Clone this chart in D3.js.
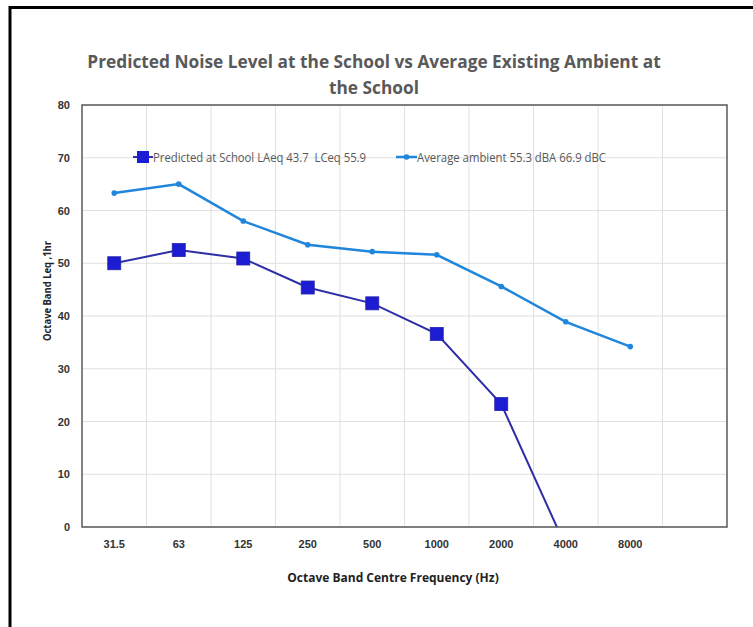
<!DOCTYPE html>
<html>
<head>
<meta charset="utf-8">
<script src="https://cdn.jsdelivr.net/npm/d3@7"></script>
<style>
  body { margin: 0; background: #fff; }
  svg { display: block; font-family: "Open Sans", "Noto Sans", sans-serif; }
</style>
</head>
<body>
<div id="chart"></div>
<script>
// Octave band chart: predicted noise vs existing ambient

const frequencies = ['31.5', '63', '125', '250', '500', '1000', '2000', '4000', '8000', ''];
const predicted = [50.0, 52.5, 50.9, 45.4, 42.4, 36.6, 23.3, -3.7, null];
const ambient = [63.3, 65.0, 58.0, 53.5, 52.2, 51.6, 45.6, 38.9, 34.2];
const yTicks = [0, 10, 20, 30, 40, 50, 60, 70, 80];
const seriesNames = ['Predicted at School LAeq 43.7  LCeq 55.9', 'Average ambient 55.3 dBA 66.9 dBC'];

const W = 753, H = 627;
const plot = { left: 82, top: 105, right: 727, bottom: 527 };

const svg = d3.select('#chart').append('svg')
  .attr('width', W)
  .attr('height', H);

svg.append('rect').attr('width', W).attr('height', H).attr('fill', '#fff');

// outer frame (top + left only, as in the source)
svg.append('line').attr('x1', 10).attr('x2', W).attr('y1', 7.5).attr('y2', 7.5)
  .attr('stroke', '#000').attr('stroke-width', 3);
svg.append('line').attr('x1', 10).attr('x2', 10).attr('y1', 6).attr('y2', H)
  .attr('stroke', '#000').attr('stroke-width', 3);

const x = d3.scaleBand()
  .domain(frequencies.map((d, i) => i))
  .range([plot.left, plot.right])
  .padding(0);

const y = d3.scaleLinear()
  .domain([0, 80])
  .range([plot.bottom, plot.top]);

// title
const title = svg.append('text')
  .attr('text-anchor', 'middle')
  .attr('fill', '#595959')
  .style('font-size', '17.3px')
  .style('font-weight', 'bold');
title.append('tspan').attr('x', 374).attr('y', 68)
  .text('Predicted Noise Level at the School vs Average Existing Ambient at');
title.append('tspan').attr('x', 374).attr('y', 94)
  .text('the School');

// gridlines
svg.append('g')
  .selectAll('line')
  .data(yTicks)
  .join('line')
  .attr('x1', plot.left).attr('x2', plot.right)
  .attr('y1', d => y(d)).attr('y2', d => y(d))
  .attr('stroke', '#e0e0e0');

svg.append('g')
  .selectAll('line')
  .data(frequencies.slice(1).map((d, i) => i + 1))
  .join('line')
  .attr('x1', d => x(d)).attr('x2', d => x(d))
  .attr('y1', plot.top).attr('y2', plot.bottom)
  .attr('stroke', '#e0e0e0');

// y axis labels
const yAxis = d3.axisLeft(y).tickValues(yTicks).tickSize(0).tickPadding(12);
svg.append('g')
  .attr('transform', `translate(${plot.left},0)`)
  .call(yAxis)
  .call(g => g.select('.domain').remove())
  .selectAll('text')
  .style('font-size', '11px')
  .style('font-weight', 'bold')
  .attr('fill', '#333');

// x axis labels
const xAxis = d3.axisBottom(x).tickSize(0).tickPadding(13).tickFormat(i => frequencies[i]);
svg.append('g')
  .attr('transform', `translate(0,${plot.bottom})`)
  .call(xAxis)
  .call(g => g.select('.domain').remove())
  .selectAll('text')
  .style('font-size', '11px')
  .style('font-weight', 'bold')
  .attr('fill', '#333');

// axis titles
svg.append('text')
  .attr('x', 393).attr('y', 582)
  .attr('text-anchor', 'middle')
  .style('font-size', '12px')
  .style('font-weight', 'bold')
  .attr('fill', '#222')
  .text('Octave Band Centre Frequency (Hz)');

svg.append('text')
  .attr('transform', 'translate(51,291) rotate(-90)')
  .attr('text-anchor', 'middle')
  .style('font-size', '10.5px')
  .style('font-weight', 'bold')
  .attr('fill', '#222')
  .attr('textLength', 100).attr('lengthAdjust', 'spacingAndGlyphs')
  .text('Octave Band Leq ,1hr');

// clip to plot area
svg.append('clipPath').attr('id', 'plot-clip')
  .append('rect')
  .attr('x', plot.left).attr('y', plot.top)
  .attr('width', plot.right - plot.left).attr('height', plot.bottom - plot.top);

const cx = i => x(i) + x.bandwidth() / 2;

const lineGen = d3.line()
  .defined(d => d != null)
  .x((d, i) => cx(i))
  .y(d => y(d));

const lines = svg.append('g').attr('clip-path', 'url(#plot-clip)');

lines.append('path')
  .datum(ambient)
  .attr('d', lineGen)
  .attr('fill', 'none')
  .attr('stroke', '#1f86dc')
  .attr('stroke-width', 2.5);

lines.selectAll('.amb-pt')
  .data(ambient)
  .join('circle')
  .attr('class', 'amb-pt')
  .attr('cx', (d, i) => cx(i))
  .attr('cy', d => y(d))
  .attr('r', 2.8)
  .attr('fill', '#1f86dc');

lines.append('path')
  .datum(predicted)
  .attr('d', lineGen)
  .attr('fill', 'none')
  .attr('stroke', '#2e2ea6')
  .attr('stroke-width', 2);

lines.selectAll('.pred-pt')
  .data(predicted.map((v, i) => ({ v, i })).filter(d => d.v != null && d.v >= 0))
  .join('rect')
  .attr('class', 'pred-pt')
  .attr('x', d => cx(d.i) - 6.5)
  .attr('y', d => y(d.v) - 6.5)
  .attr('width', 13).attr('height', 13)
  .attr('fill', '#1c1cd2')
  .attr('stroke', '#2424a8')
  .attr('stroke-width', 0.8);

// plot border
svg.append('rect')
  .attr('x', plot.left).attr('y', plot.top)
  .attr('width', plot.right - plot.left).attr('height', plot.bottom - plot.top)
  .attr('fill', 'none')
  .attr('stroke', '#595959')
  .attr('stroke-width', 1.5);

// legend
const legend = svg.append('g').style('font-size', '13px').attr('fill', '#595959');

const lg1 = legend.append('g').attr('transform', 'translate(133,157)');
lg1.append('line').attr('x1', 0).attr('x2', 20).attr('stroke', '#2e2ea6').attr('stroke-width', 2);
lg1.append('rect').attr('x', 4).attr('y', -6).attr('width', 12).attr('height', 12).attr('fill', '#1c1cd2');
lg1.append('text').attr('x', 20).attr('y', 4.5)
  .style('white-space', 'pre')
  .attr('textLength', 213).attr('lengthAdjust', 'spacingAndGlyphs')
  .text(seriesNames[0]);

const lg2 = legend.append('g').attr('transform', 'translate(396,157)');
lg2.append('line').attr('x1', 0).attr('x2', 21).attr('stroke', '#1f86dc').attr('stroke-width', 2.5);
lg2.append('circle').attr('cx', 10.5).attr('cy', 0).attr('r', 2.8).attr('fill', '#1f86dc');
lg2.append('text').attr('x', 21).attr('y', 4.5)
  .attr('textLength', 189).attr('lengthAdjust', 'spacingAndGlyphs')
  .text(seriesNames[1]);
</script>
</body>
</html>
